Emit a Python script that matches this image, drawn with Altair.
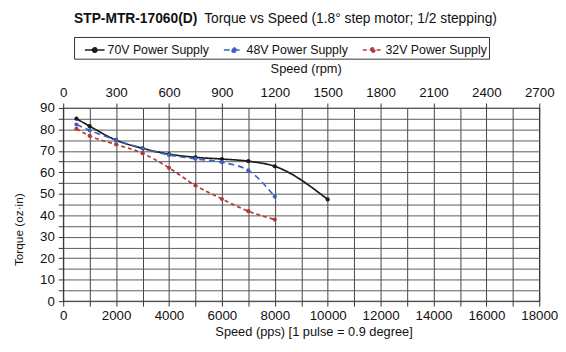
import altair as alt
import pandas as pd

speed_70 = [500, 1000, 2000, 3000, 4000, 5000, 6000, 7000, 8000, 10000]
torque_70 = [85, 81.5, 75, 71.2, 68.5, 67, 66.2, 65.2, 62.8, 47.4]
speed_48 = [500, 1000, 2000, 3000, 4000, 5000, 6000, 7000, 8000]
torque_48 = [82.3, 79.6, 75, 71.2, 68.1, 66.3, 64.7, 60.9, 48.7]
speed_32 = [500, 1000, 2000, 3000, 4000, 5000, 6000, 7000, 8000]
torque_32 = [80.3, 77, 73, 68.9, 62.1, 53.9, 47.6, 41.9, 38]

series_names = ["70V Power Supply", "48V Power Supply", "32V Power Supply"]
series_colors = ["#1a1a1a", "#3d62c4", "#b23a3a"]
series_dash = [[1, 0], [6, 4], [4, 3]]

rows = []
for name, xs, ys in zip(series_names, [speed_70, speed_48, speed_32], [torque_70, torque_48, torque_32]):
    for x, y in zip(xs, ys):
        rows.append({"speed": x, "torque": y, "series": name})
df = pd.DataFrame(rows)

FONT = "Liberation Sans"
LBL = 13.5

xscale = alt.Scale(domain=[0, 18000], nice=False)
yscale = alt.Scale(domain=[0, 90], nice=False)


def make_legend():
    return alt.Legend(title=None, orient="none", legendX=11, legendY=-72,
                      direction="horizontal", strokeColor="#333",
                      padding=2, columnPadding=6,
                      symbolType="M -1 0 L 1 0 M 0.22 0 A 0.22 0.22 0 1 1 -0.22 0 A 0.22 0.22 0 1 1 0.22 0",
                      symbolSize=400, symbolStrokeWidth=1.6, symbolOffset=8,
                      labelFont=FONT, labelFontSize=12.5, labelColor="#111",
                      labelOffset=2)


color = alt.Color("series:N", sort=series_names,
                  scale=alt.Scale(domain=series_names, range=series_colors),
                  legend=make_legend())
dash = alt.StrokeDash("series:N", sort=series_names,
                      scale=alt.Scale(domain=series_names, range=series_dash),
                      legend=make_legend())

lines = alt.Chart(df).mark_line(interpolate="monotone", strokeWidth=1.7).encode(
    x=alt.X("speed:Q", scale=xscale,
            axis=alt.Axis(orient="bottom", values=list(range(0, 18001, 1000)),
                          labelExpr="datum.value % 2000 == 0 ? format(datum.value, 'd') : ''",
                          labelOverlap=False, labelFlush=False,
                          title="Speed (pps)  [1 pulse = 0.9 degree]",
                          grid=True, gridColor="#444", gridWidth=1,
                          domain=False, tickColor="#333", tickSize=5,
                          labelFont=FONT, labelFontSize=LBL, labelColor="#111",
                          titleFont=FONT, titleFontSize=13, titleFontWeight="normal",
                          titleColor="#111", titlePadding=3, titleX=254, labelPadding=3)),
    y=alt.Y("torque:Q", scale=yscale,
            axis=alt.Axis(values=list(range(0, 91, 5)),
                          labelExpr="datum.value % 10 == 0 ? format(datum.value, 'd') : ''",
                          labelOverlap=False, labelFlush=False,
                          title="Torque (oz·in)", grid=True, gridColor="#5a5a5a", gridWidth=1,
                          domain=False, tickColor="#333", tickSize=5,
                          labelFont=FONT, labelFontSize=LBL, labelColor="#111",
                          titleFont=FONT, titleFontSize=12, titleFontWeight="normal",
                          titleColor="#111", titleX=-38, titleY=123, labelPadding=4)),
    color=color,
    strokeDash=dash,
)

points = alt.Chart(df).mark_point(filled=True, size=18, opacity=1).encode(
    x=alt.X("speed:Q", scale=xscale,
            axis=alt.Axis(orient="top", values=list(range(0, 18001, 2000)),
                          labelExpr="format(datum.value * 0.15, 'd')",
                          labelOverlap=False, labelFlush=False,
                          title="Speed (rpm)", grid=False, domain=False,
                          tickColor="#333", tickSize=5,
                          labelFont=FONT, labelFontSize=LBL, labelColor="#111",
                          titleFont=FONT, titleFontSize=13, titleFontWeight="normal",
                          titleColor="#111", titlePadding=10, titleX=246, labelPadding=4)),
    y=alt.Y("torque:Q", scale=yscale, axis=None),
    color=alt.Color("series:N", sort=series_names,
                    scale=alt.Scale(domain=series_names, range=series_colors), legend=None),
)

title_bold = alt.Chart(pd.DataFrame({"t": ["STP-MTR-17060(D)"]})).mark_text(
    font=FONT, fontSize=14, fontWeight="bold", align="left", baseline="middle", color="#111"
).encode(text="t:N", x=alt.value(11), y=alt.value(-90))

title_rest = alt.Chart(pd.DataFrame({"t": ["Torque vs Speed (1.8° step motor; 1/2 stepping)"]})).mark_text(
    font=FONT, fontSize=14, align="left", baseline="middle", color="#111"
).encode(text="t:N", x=alt.value(143), y=alt.value(-90))

chart = alt.layer(lines, points, title_bold, title_rest).resolve_axis(
    x="independent", y="independent"
).properties(
    width=483, height=196,
    autosize=alt.AutoSizeParams(type="none"),
    padding={"left": 56, "top": 99, "right": 19, "bottom": 36},
).configure_view(stroke="#222", strokeWidth=1.2)

chart.save("out.html", embed_options={"renderer": "svg", "actions": False})
